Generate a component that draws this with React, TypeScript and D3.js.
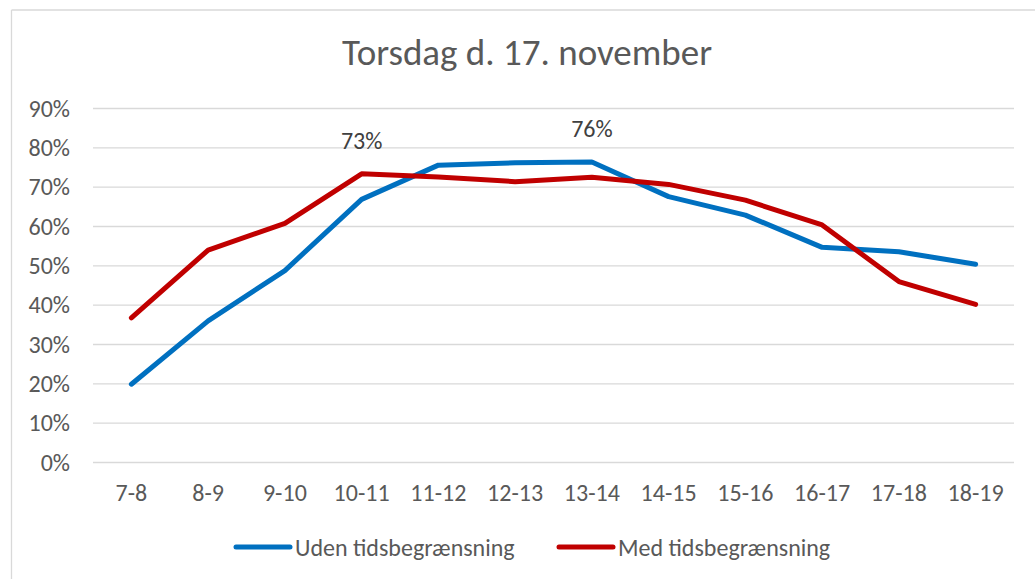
import React, { useEffect, useRef } from 'react';
import * as d3 from 'd3';

const categories = ['7-8', '8-9', '9-10', '10-11', '11-12', '12-13', '13-14', '14-15', '15-16', '16-17', '17-18', '18-19'];
const udenValues = [19.9, 36.0, 48.8, 66.9, 75.6, 76.2, 76.4, 67.6, 62.9, 54.7, 53.6, 50.4];
const medValues = [36.8, 54.0, 60.8, 73.4, 72.6, 71.4, 72.5, 70.7, 66.7, 60.4, 46.0, 40.2];
const yTicks = [0, 10, 20, 30, 40, 50, 60, 70, 80, 90];
// which points carry a data label
const udenLabelAt = ['13-14'];
const medLabelAt = ['10-11'];

const FONT = "Calibri, Carlito, 'Open Sans', sans-serif";

const App = () => {
  const ref = useRef<SVGSVGElement | null>(null);

  useEffect(() => {
    const svg = d3.select(ref.current);
    svg.selectAll('*').remove();

    const width = 1035;
    const height = 579;

    svg.append('rect').attr('width', width).attr('height', height).attr('fill', '#fff');

    // chart frame (only top and left edges visible)
    svg.append('line').attr('x1', 11.5).attr('x2', width).attr('y1', 10).attr('y2', 10).attr('stroke', '#d9d9d9').attr('stroke-width', 1.3);
    svg.append('line').attr('x1', 11.5).attr('x2', 11.5).attr('y1', 10).attr('y2', height).attr('stroke', '#d9d9d9').attr('stroke-width', 1.3);

    svg
      .append('text')
      .attr('x', 527)
      .attr('y', 65)
      .attr('text-anchor', 'middle')
      .attr('font-family', FONT)
      .attr('font-size', 37)
      .attr('fill', '#595959')
      .text('Torsdag d. 17. november');

    const x = d3.scaleBand().domain(categories).range([93, 1014]);
    const y = d3.scaleLinear().domain([0, 90]).range([462.5, 108.5]);
    const cx = (c: string) => (x(c) as number) + x.bandwidth() / 2;

    // gridlines
    svg
      .append('g')
      .selectAll('line')
      .data(yTicks)
      .enter()
      .append('line')
      .attr('x1', 93)
      .attr('x2', 1014)
      .attr('y1', (d) => y(d))
      .attr('y2', (d) => y(d))
      .attr('stroke', '#d9d9d9')
      .attr('stroke-width', 1.3);

    // y labels
    svg
      .append('g')
      .selectAll('text')
      .data(yTicks)
      .enter()
      .append('text')
      .attr('x', 70)
      .attr('y', (d) => y(d))
      .attr('dy', '0.34em')
      .attr('text-anchor', 'end')
      .attr('font-family', FONT)
      .attr('font-size', 24)
      .attr('fill', '#595959')
      .text((d) => `${d}%`);

    // x labels
    svg
      .append('g')
      .selectAll('text')
      .data(categories)
      .enter()
      .append('text')
      .attr('x', (d) => cx(d))
      .attr('y', 501)
      .attr('text-anchor', 'middle')
      .attr('font-family', FONT)
      .attr('font-size', 24)
      .attr('fill', '#595959')
      .text((d) => d);

    const series = [
      { name: 'Uden tidsbegrænsning', values: udenValues, color: '#0070c0', labels: udenLabelAt },
      { name: 'Med tidsbegrænsning', values: medValues, color: '#c00000', labels: medLabelAt },
    ];

    const line = d3
      .line<number>()
      .x((_, i) => cx(categories[i]))
      .y((d) => y(d));

    series.forEach((s) => {
      svg
        .append('path')
        .attr('d', line(s.values))
        .attr('fill', 'none')
        .attr('stroke', s.color)
        .attr('stroke-width', 5)
        .attr('stroke-linejoin', 'round')
        .attr('stroke-linecap', 'round');
    });

    series.forEach((s) => {
      s.labels.forEach((c) => {
        const v = s.values[categories.indexOf(c)];
        svg
          .append('text')
          .attr('x', cx(c))
          .attr('y', y(v) - 25)
          .attr('text-anchor', 'middle')
          .attr('font-family', FONT)
          .attr('font-size', 24)
          .attr('fill', '#404040')
          .text(`${Math.round(v)}%`);
      });
    });

    // legend
    const legendX = [236, 559];
    series.forEach((s, i) => {
      const g = svg.append('g').attr('transform', `translate(${legendX[i]}, 547)`);
      g.append('line').attr('x1', 0).attr('x2', 54).attr('stroke', s.color).attr('stroke-width', 5).attr('stroke-linecap', 'round');
      g.append('text')
        .attr('x', 59)
        .attr('y', 8.5)
        .attr('font-family', FONT)
        .attr('font-size', 24)
        .attr('fill', '#595959')
        .text(s.name);
    });
  }, []);

  return (
    <div style={{ position: 'absolute', left: 0, top: 0 }}>
      <svg ref={ref} width={1035} height={579} style={{ display: 'block' }} />
    </div>
  );
};

export default App;
